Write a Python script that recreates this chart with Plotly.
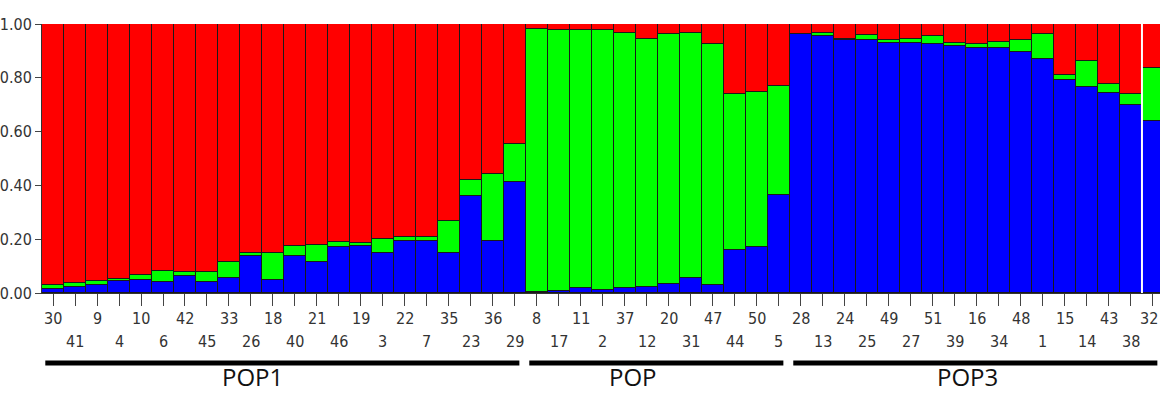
import plotly.graph_objects as go

# Individual IDs in plotting order, grouped by population
ids = [30, 41, 9, 4, 10, 6, 42, 45, 33, 26, 18, 40, 21, 46, 19, 3, 22, 7, 35, 23, 36, 29,
       8, 17, 11, 2, 37, 12, 20, 31, 47, 44, 50, 5,
       28, 13, 24, 25, 49, 27, 51, 39, 16, 34, 48, 1, 15, 14, 43, 38, 32]

groups = ["POP1", "POP", "POP3"]
group_sizes = [22, 12, 17]

# Membership coefficients (Q) for the three clusters
q_blue = [0.014, 0.023, 0.030, 0.045, 0.048, 0.040, 0.063, 0.040, 0.057, 0.138, 0.048,
          0.138, 0.114, 0.172, 0.176, 0.150, 0.195, 0.195, 0.150, 0.362, 0.195, 0.412,
          0.005, 0.008, 0.017, 0.011, 0.017, 0.021, 0.032, 0.057, 0.030, 0.160, 0.172, 0.365,
          0.961, 0.955, 0.942, 0.940, 0.930, 0.930, 0.924, 0.917, 0.911, 0.911, 0.895,
          0.870, 0.793, 0.766, 0.744, 0.700, 0.638]
q_green = [0.016, 0.015, 0.015, 0.007, 0.018, 0.042, 0.016, 0.039, 0.057, 0.012, 0.100,
           0.037, 0.065, 0.017, 0.011, 0.050, 0.015, 0.015, 0.118, 0.059, 0.248, 0.143,
           0.977, 0.970, 0.959, 0.965, 0.950, 0.925, 0.929, 0.910, 0.894, 0.581, 0.574, 0.403,
           0.003, 0.012, 0.003, 0.018, 0.012, 0.015, 0.031, 0.013, 0.015, 0.021, 0.045,
           0.093, 0.019, 0.095, 0.033, 0.040, 0.199]
q_red = [0.970, 0.962, 0.955, 0.948, 0.934, 0.918, 0.921, 0.921, 0.886, 0.850, 0.852,
         0.825, 0.821, 0.811, 0.813, 0.800, 0.790, 0.790, 0.732, 0.579, 0.557, 0.445,
         0.018, 0.022, 0.024, 0.024, 0.033, 0.054, 0.039, 0.033, 0.076, 0.259, 0.254, 0.232,
         0.036, 0.033, 0.055, 0.042, 0.058, 0.055, 0.045, 0.070, 0.074, 0.068, 0.060,
         0.037, 0.188, 0.139, 0.223, 0.260, 0.163]

y_ticks = [0.0, 0.2, 0.4, 0.6, 0.8, 1.0]

xs = list(range(len(ids)))

outline = dict(color="#1a1a1a", width=1)
fig = go.Figure()
for name, vals, col in [("Cluster 1", q_blue, "#0000FF"),
                        ("Cluster 2", q_green, "#00FF00"),
                        ("Cluster 3", q_red, "#FF0000")]:
    fig.add_trace(go.Bar(x=xs, y=vals, name=name, marker=dict(color=col, line=outline),
                         width=1.0, hoverinfo="x+y"))

narrow = "DejaVu Sans Condensed, Liberation Sans Narrow, sans-serif"

fig.update_layout(
    barmode="stack",
    bargap=0,
    width=1160, height=394,
    margin=dict(l=42, r=0, t=24, b=101),
    paper_bgcolor="white", plot_bgcolor="white",
    showlegend=False,
    xaxis=dict(range=[-0.5, 50.32], tickmode="array", tickvals=xs, showticklabels=False,
               ticks="outside", ticklen=12, tickcolor="#444", tickwidth=1,
               showline=True, linecolor="#333", linewidth=1, showgrid=False, zeroline=False),
    yaxis=dict(range=[0, 1], tickmode="array", tickvals=y_ticks, tickformat=".2f",
               ticks="outside", ticklen=6, tickcolor="#444", tickwidth=1,
               showline=True, linecolor="#333", linewidth=1, showgrid=False, zeroline=False,
               tickfont=dict(family=narrow, size=16, color="#333")),
)

# Individual IDs, alternating between two rows below the ticks
last = len(ids) - 1
for i, v in zip(xs, ids):
    row_y = -0.093 if i % 2 == 0 else -0.182
    if i == last:
        # the final ID sits against the right edge of the figure
        fig.add_annotation(x=1.0, y=row_y, xref="paper", yref="paper", text=str(v),
                           showarrow=False, xanchor="right", yanchor="middle",
                           font=dict(family=narrow, size=16, color="#333"))
    else:
        fig.add_annotation(x=i, y=row_y, xref="x", yref="paper", text=str(v),
                           showarrow=False, xanchor="center", yanchor="middle",
                           font=dict(family=narrow, size=16, color="#333"))

# Population bars and names underneath the individual labels
label_shift = [-1.45, -1.15, -0.45]
start = 0
for name, size, shift in zip(groups, group_sizes, label_shift):
    x0 = start - 0.5
    x1 = start + size - 0.5
    fig.add_shape(type="line", xref="x", yref="paper", x0=x0 + 0.15, x1=x1 - 0.3,
                  y0=-0.26, y1=-0.26, line=dict(color="black", width=5))
    fig.add_annotation(x=(x0 + x1) / 2 + shift, y=-0.31, xref="x", yref="paper",
                       text=name, showarrow=False, yanchor="middle",
                       font=dict(family="Open Sans", size=24, color="#111"))
    start += size

# White separator before the last individual
fig.add_shape(type="line", xref="x", yref="y", x0=49.5, x1=49.5, y0=0, y1=1,
              line=dict(color="white", width=2))

fig.write_html("out.html")
